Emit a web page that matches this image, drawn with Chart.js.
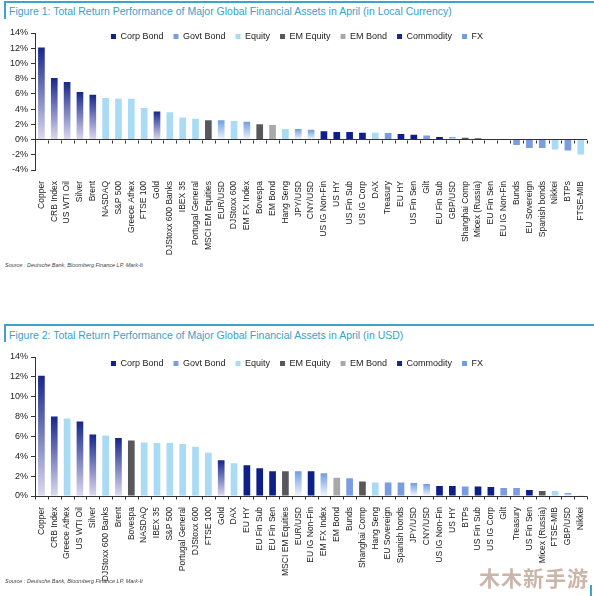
<!DOCTYPE html>
<html>
<head>
<meta charset="utf-8">
<script src="https://cdn.jsdelivr.net/npm/chart.js@4.4.1/dist/chart.umd.min.js"></script>
<style>
  body { margin: 0; width: 594px; height: 596px; overflow: hidden; position: relative; background: #fff; font-family: "Liberation Sans", Arial, sans-serif; }
  .hline { position: absolute; left: 4px; width: 590px; height: 2px; background: #3ea3c9; }
  .vline { position: absolute; left: 4px; width: 2px; height: 18px; background: #3ea3c9; }
  .title { position: absolute; left: 9px; font-size: 10.5px; color: #3a9fca; white-space: nowrap; }
  .wrap { position: absolute; left: 0; width: 594px; }
  .src { position: absolute; left: 5px; font-size: 5.5px; font-style: italic; color: #444; }
  .mark { position: absolute; right: 5px; top: 562px; font: bold 21px "Noto Sans CJK SC", sans-serif; color: rgba(160,120,100,0.55); letter-spacing: 1px; }
</style>
</head>
<body>
<div class="hline" style="top:1px"></div>
<div class="vline" style="top:1px"></div>
<div class="title" style="top:5px">Figure 1: Total Return Performance of Major Global Financial Assets in April (in Local Currency)</div>
<div class="wrap" style="top:20px;height:242px"><canvas id="c1"></canvas></div>
<div class="src" style="top:262px">Source : Deutsche Bank, Bloomberg Finance LP, Mark-It</div>

<div class="hline" style="top:324px"></div>
<div class="vline" style="top:324px"></div>
<div class="title" style="top:329px">Figure 2: Total Return Performance of Major Global Financial Assets in April (in USD)</div>
<div class="wrap" style="top:345px;height:243px"><canvas id="c2"></canvas></div>
<div class="src" style="top:578px">Source : Deutsche Bank, Bloomberg Finance LP, Mark-It</div>
<div class="mark">木木新手游</div>
<div style="position:absolute;left:590px;top:585px;width:2px;height:11px;background:#3ea3c9"></div>

<script>
// asset groups (legend order)
var groups = ["Corp Bond", "Govt Bond", "Equity", "EM Equity", "EM Bond", "Commodity", "FX"];

// Figure 1: local currency
var labels1 = ["Copper", "CRB Index", "US WTI Oil", "Silver", "Brent", "NASDAQ", "S&P 500", "Greece Athex", "FTSE 100", "Gold",
  "DJStoxx 600 Banks", "IBEX 35", "Portugal General", "MSCI EM Equities", "EUR/USD", "DJStoxx 600", "EM FX Index", "Bovespa", "EM Bond", "Hang Seng",
  "JPY/USD", "CNY/USD", "US IG Non-Fin", "US HY", "US Fin Sub", "US IG Corp", "DAX", "Treasury", "EU HY", "US Fin Sen",
  "Gilt", "EU Fin Sub", "GBP/USD", "Shanghai Comp", "Micex (Russia)", "EU Fin Sen", "EU IG Non-Fin", "Bunds", "EU Sovereign", "Spanish bonds",
  "Nikkei", "BTPs", "FTSE-MIB"];
var values1 = [12.1, 8.1, 7.55, 6.25, 5.9, 5.45, 5.37, 5.35, 4.15, 3.7,
  3.6, 2.9, 2.75, 2.55, 2.55, 2.45, 2.35, 2.0, 1.9, 1.4,
  1.4, 1.3, 1.1, 1.0, 1.0, 0.9, 0.9, 0.85, 0.72, 0.62,
  0.52, 0.35, 0.33, 0.25, 0.18, 0.03, -0.03, -0.7, -1.1, -1.1,
  -1.3, -1.45, -1.95];
var types1 = ["Commodity", "Commodity", "Commodity", "Commodity", "Commodity", "Equity", "Equity", "Equity", "Equity", "Commodity",
  "Equity", "Equity", "Equity", "EM Equity", "FX", "Equity", "FX", "EM Equity", "EM Bond", "Equity",
  "FX", "FX", "Corp Bond", "Corp Bond", "Corp Bond", "Corp Bond", "Equity", "Govt Bond", "Corp Bond", "Corp Bond",
  "Govt Bond", "Corp Bond", "FX", "EM Equity", "EM Equity", "Corp Bond", "Corp Bond", "Govt Bond", "Govt Bond", "Govt Bond",
  "Equity", "Govt Bond", "Equity"];
var ticks1 = [-4, 14];

// Figure 2: USD
var labels2 = ["Copper", "CRB Index", "Greece Athex", "US WTI Oil", "Silver", "DJStoxx 600 Banks", "Brent", "Bovespa", "NASDAQ", "IBEX 35",
  "S&P 500", "Portugal General", "DJStoxx 600", "FTSE 100", "Gold", "DAX", "EU HY", "EU Fin Sub", "EU Fin Sen", "MSCI EM Equities",
  "EUR/USD", "EU IG Non-Fin", "EM FX Index", "EM Bond", "Bunds", "Shanghai Comp", "Hang Seng", "EU Sovereign", "Spanish bonds", "JPY/USD",
  "CNY/USD", "US IG Non-Fin", "US HY", "BTPs", "US Fin Sub", "US IG Corp", "Gilt", "Treasury", "US Fin Sen", "Micex (Russia)",
  "FTSE-MIB", "GBP/USD", "Nikkei"];
var values2 = [12.1, 8.0, 7.8, 7.5, 6.2, 6.1, 5.85, 5.6, 5.4, 5.35,
  5.35, 5.25, 4.95, 4.35, 3.6, 3.3, 3.1, 2.8, 2.5, 2.5,
  2.5, 2.5, 2.3, 1.85, 1.8, 1.45, 1.35, 1.35, 1.35, 1.3,
  1.2, 1.0, 1.0, 0.95, 0.95, 0.9, 0.8, 0.8, 0.6, 0.5,
  0.5, 0.3, 0.02];
var types2 = ["Commodity", "Commodity", "Equity", "Commodity", "Commodity", "Equity", "Commodity", "EM Equity", "Equity", "Equity",
  "Equity", "Equity", "Equity", "Equity", "Commodity", "Equity", "Corp Bond", "Corp Bond", "Corp Bond", "EM Equity",
  "FX", "Corp Bond", "FX", "EM Bond", "Govt Bond", "EM Equity", "Equity", "Govt Bond", "Govt Bond", "FX",
  "FX", "Corp Bond", "Corp Bond", "Govt Bond", "Corp Bond", "Corp Bond", "Govt Bond", "Govt Bond", "Corp Bond", "EM Equity",
  "Equity", "FX", "Equity"];
var ticks2 = [0, 14];

var solid = {
  "Corp Bond": "#0d1f88",
  "Govt Bond": "#7a9de2",
  "Equity": "#a9dbf4",
  "EM Equity": "#58585c",
  "EM Bond": "#a9a9a9"
};
var fades = {
  "Commodity": ["#16268b", "#dcdaee"],
  "FX": ["#6e9de3", "#f2f6fc"]
};

function fill(g) {
  if (solid[g]) return solid[g];
  var cs = fades[g];
  return function (ctx) {
    var v = ctx.raw;
    if (v == null || !ctx.chart.chartArea) return cs[0];
    var y = ctx.chart.scales.y;
    var grad = ctx.chart.ctx.createLinearGradient(0, y.getPixelForValue(v), 0, y.getPixelForValue(0));
    grad.addColorStop(0, cs[0]);
    grad.addColorStop(1, cs[1]);
    return grad;
  };
}

// small tick marks along the zero line, between categories
var zeroTicks = {
  id: "zeroTicks",
  afterDatasetsDraw: function (chart) {
    var x = chart.scales.x, y = chart.scales.y, c = chart.ctx;
    var y0 = Math.round(y.getPixelForValue(0)) + 0.5;
    var n = chart.data.labels.length, step = (x.right - x.left) / n;
    c.save();
    c.strokeStyle = "#333";
    c.lineWidth = 1;
    c.beginPath();
    for (var i = 0; i <= n; i++) {
      var px = Math.round(x.left + i * step) + 0.5;
      c.moveTo(px, y0);
      c.lineTo(px, y0 + 3);
    }
    c.stroke();
    c.restore();
  }
};

// legend sits over the plot instead of taking room above it
var legendOver = {
  id: "legendOver",
  beforeInit: function (chart) {
    var fit = chart.legend.fit;
    chart.legend.fit = function () {
      fit.bind(chart.legend)();
      this.height = 0;
    };
  },
  afterLayout: function (chart) {
    var l = chart.legend, o = chart.options.plugins.legendOver;
    l.top = chart.chartArea.top + o.dy;
    l.bottom = l.top + 30;
    l.height = 30;
    l.left = 0;
    l.right = 2 * o.cx - l.options.labels.padding;
    l.width = l.right - l.left;
  }
};

function makeChart(id, labels, values, types, range, pad, xh, legendPos) {
  var datasets = groups.map(function (g) {
    return {
      label: g,
      data: values.map(function (v, i) { return types[i] === g ? v : null; }),
      backgroundColor: fill(g),
      grouped: false,
      barPercentage: 0.52,
      categoryPercentage: 1
    };
  });
  return new Chart(document.getElementById(id), {
    type: "bar",
    data: { labels: labels, datasets: datasets },
    plugins: [zeroTicks, legendOver],
    options: {
      responsive: true,
      maintainAspectRatio: false,
      animation: false,
      layout: { padding: pad },
      plugins: {
        legend: {
          position: "top",
          labels: { boxWidth: 5, boxHeight: 5, padding: 10, color: "#222", font: { family: "Liberation Sans", size: 9 } }
        },
        legendOver: legendPos,
        tooltip: { enabled: false }
      },
      scales: {
        x: {
          afterFit: function (s) { s.height = xh; },
          grid: { display: false },
          border: { display: false },
          ticks: { autoSkip: false, maxRotation: 90, minRotation: 90, padding: 3, color: "#222", font: { family: "Liberation Sans", size: 8.5 } }
        },
        y: {
          min: range[0],
          max: range[1],
          afterFit: function (s) { s.width = 35; },
          border: { display: true, color: "#333" },
          grid: {
            color: function (ctx) { return ctx.tick && ctx.tick.value === 0 ? "#333" : "rgba(0,0,0,0)"; },
            tickColor: "#333",
            tickLength: 4
          },
          ticks: {
            stepSize: 2,
            padding: 3,
            color: "#222",
            font: { family: "Liberation Sans", size: 9 },
            callback: function (v) { return v + "%"; }
          }
        }
      }
    }
  });
}

makeChart("c1", labels1, values1, types1, ticks1, { top: 13, right: 4, left: 0, bottom: 0 }, 92, { cx: 302, dy: -11 });
makeChart("c2", labels2, values2, types2, ticks2, { top: 12, right: 4, left: 0, bottom: 0 }, 92, { cx: 302, dy: -8 });
</script>
</body>
</html>
